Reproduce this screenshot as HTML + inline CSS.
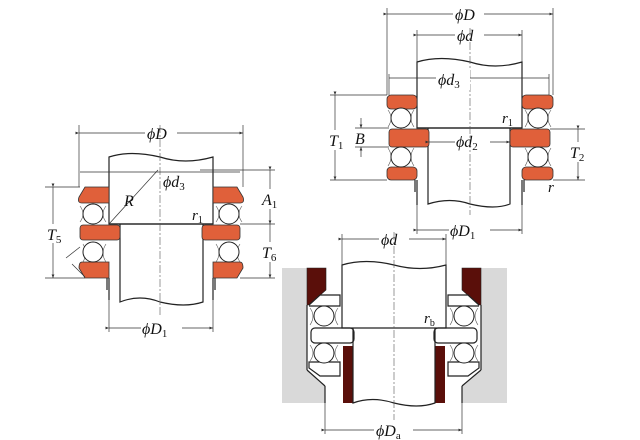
<!DOCTYPE html>
<html><head><meta charset="utf-8"><style>
html,body{margin:0;padding:0;background:#fff}
svg{display:block}
text{font-family:"Liberation Serif",serif;font-style:italic;fill:#111}
.l{stroke:#222;stroke-width:1.2;fill:none}
.t{stroke:#333;stroke-width:.7;fill:none}
.w{fill:#e0603a;stroke:#333;stroke-width:.8}
.b{fill:#fff;stroke:#222;stroke-width:1}
.c{fill:none;stroke:#555;stroke-width:.6}
.cl{stroke:#555;stroke-width:.6;stroke-dasharray:8 2 2 2;fill:none}
</style></head><body>
<svg width="640" height="440" viewBox="0 0 640 440" xmlns="http://www.w3.org/2000/svg">
<defs>
<marker id="a" markerWidth="6" markerHeight="6" refX="5" refY="3" orient="auto"><path d="M0,1 L5,3 L0,5" fill="#333"/></marker>
</defs>

<!-- ============ FIGURE 1 (left) ============ -->
<path class="l" d="M109,224 V157 Q130,150 160,157 Q185,165 213,157 V224 Z" fill="#fff"/>
<path class="l" d="M120,224 V302 Q140,294 160,302 Q185,308 203,302 V224" fill="#fff"/>
<line class="l" x1="109" y1="224" x2="213" y2="224"/>
<line class="cl" x1="160" y1="125" x2="160" y2="315"/>
<path class="w" d="M85,187 H109 V203 H82 Q77,203 79,197 Z"/>
<rect class="w" x="80" y="225" width="40" height="15" rx="3"/>
<path class="w" d="M82,262 H109 V278 H85 L79,268 Q79,262 82,262 Z"/>
<path class="w" d="M213,187 H237 L243,197 Q245,203 240,203 H213 Z"/>
<rect class="w" x="202" y="225" width="38" height="15" rx="3"/>
<path class="w" d="M213,262 H240 Q243,262 243,268 L237,278 H213 Z"/>
<path class="c" d="M80,206 Q86,214 80,222 M106,206 Q100,214 106,222 M83,244 Q88,253 83,262 M106,244 Q100,253 106,262"/>
<circle class="b" cx="93" cy="214" r="10"/><circle class="b" cx="93" cy="252" r="10"/>
<path class="c" d="M216,206 Q222,214 216,222 M242,206 Q236,214 242,222 M216,244 Q222,253 216,262 M240,244 Q234,253 240,262"/>
<circle class="b" cx="229" cy="214" r="10"/><circle class="b" cx="229" cy="252" r="10"/>
<line class="l" x1="109" y1="278" x2="109" y2="300"/><line class="l" x1="213" y1="278" x2="213" y2="300"/>
<line class="l" x1="107" y1="278" x2="107" y2="290"/><line class="l" x1="215" y1="278" x2="215" y2="290"/>
<line class="t" x1="79" y1="125" x2="79" y2="187"/><line class="t" x1="243" y1="125" x2="243" y2="187"/>
<line class="t" x1="79" y1="133" x2="145" y2="133" marker-start="url(#a)"/><line class="t" x1="177" y1="133" x2="243" y2="133" marker-end="url(#a)"/>
<text x="147" y="139" font-size="16">ϕD</text>
<line class="t" x1="80" y1="172" x2="240" y2="172"/>
<line class="t" x1="200" y1="170" x2="275" y2="170"/>
<text x="163" y="187" font-size="16">ϕd<tspan font-size="11" font-style="normal" dy="3">3</tspan></text>
<line class="t" x1="109" y1="224" x2="158" y2="170"/>
<text x="124" y="206" font-size="16">R</text>
<text x="192" y="220" font-size="15">r<tspan font-size="10" font-style="normal" dy="3">1</tspan></text>
<line class="t" x1="45" y1="187" x2="80" y2="187"/><line class="t" x1="45" y1="278" x2="85" y2="278"/>
<line class="t" x1="53" y1="187" x2="53" y2="278" marker-start="url(#a)" marker-end="url(#a)"/>
<rect x="46" y="224" width="22" height="19" fill="#fff"/>
<text x="47" y="240" font-size="16">T<tspan font-size="11" font-style="normal" dy="3">5</tspan></text>
<line class="t" x1="66" y1="258" x2="80" y2="247"/><line class="t" x1="72" y1="264" x2="85" y2="277"/>
<line class="t" x1="240" y1="224" x2="275" y2="224"/><line class="t" x1="240" y1="278" x2="275" y2="278"/>
<line class="t" x1="270" y1="170" x2="270" y2="224" marker-start="url(#a)" marker-end="url(#a)"/>
<line class="t" x1="270" y1="224" x2="270" y2="278" marker-end="url(#a)"/>
<rect x="261" y="189" width="23" height="20" fill="#fff"/><rect x="261" y="242" width="23" height="20" fill="#fff"/>
<text x="262" y="205" font-size="16">A<tspan font-size="11" font-style="normal" dy="3">1</tspan></text>
<text x="262" y="258" font-size="16">T<tspan font-size="11" font-style="normal" dy="3">6</tspan></text>
<line class="t" x1="109" y1="300" x2="109" y2="332"/><line class="t" x1="213" y1="300" x2="213" y2="332"/>
<line class="t" x1="109" y1="328" x2="141" y2="328" marker-start="url(#a)"/><line class="t" x1="182" y1="328" x2="213" y2="328" marker-end="url(#a)"/>
<text x="142" y="334" font-size="16">ϕD<tspan font-size="11" font-style="normal" dy="3">1</tspan></text>

<!-- ============ FIGURE 2 (top right) ============ -->
<path class="l" d="M417,128 V62 Q440,55 470,62 Q495,70 522,62 V128 Z" fill="#fff"/>
<path class="l" d="M428,128 V204 Q450,197 470,204 Q495,210 510,204 V128" fill="#fff"/>
<line class="l" x1="417" y1="128" x2="522" y2="128"/>
<line class="cl" x1="470" y1="28" x2="470" y2="215"/>
<rect class="w" x="387" y="95" width="30" height="14" rx="4"/>
<rect class="w" x="389" y="129" width="40" height="18" rx="3"/>
<rect class="w" x="387" y="167" width="30" height="13" rx="4"/>
<rect class="w" x="522" y="95" width="31" height="14" rx="4"/>
<rect class="w" x="510" y="129" width="40" height="18" rx="3"/>
<rect class="w" x="522" y="167" width="31" height="13" rx="4"/>
<path class="c" d="M388,110 Q394,118 388,127 M414,110 Q408,118 414,127 M388,148 Q394,157 388,166 M414,148 Q408,157 414,166"/>
<path class="c" d="M525,110 Q531,118 525,127 M551,110 Q545,118 551,127 M525,148 Q531,157 525,166 M551,148 Q545,157 551,166"/>
<circle class="b" cx="401" cy="118" r="10"/><circle class="b" cx="401" cy="157" r="10"/>
<circle class="b" cx="538" cy="118" r="10"/><circle class="b" cx="538" cy="157" r="10"/>
<line class="l" x1="417" y1="180" x2="417" y2="205"/><line class="l" x1="522" y1="180" x2="522" y2="205"/>
<line class="l" x1="415" y1="180" x2="415" y2="192"/><line class="l" x1="524" y1="180" x2="524" y2="192"/>
<line class="t" x1="387" y1="8" x2="387" y2="95"/><line class="t" x1="553" y1="8" x2="553" y2="95"/>
<line class="t" x1="387" y1="14" x2="453" y2="14" marker-start="url(#a)"/><line class="t" x1="484" y1="14" x2="553" y2="14" marker-end="url(#a)"/>
<text x="455" y="20" font-size="16">ϕD</text>
<line class="t" x1="417" y1="30" x2="417" y2="62"/><line class="t" x1="522" y1="30" x2="522" y2="62"/>
<line class="t" x1="417" y1="35" x2="455" y2="35" marker-start="url(#a)"/><line class="t" x1="484" y1="35" x2="522" y2="35" marker-end="url(#a)"/>
<text x="457" y="41" font-size="16">ϕd</text>
<line class="t" x1="389" y1="78" x2="549" y2="78"/>
<line class="t" x1="389" y1="74" x2="389" y2="95"/><line class="t" x1="549" y1="74" x2="549" y2="95"/>
<rect x="436" y="70" width="34" height="20" fill="#fff"/>
<text x="438" y="85" font-size="16">ϕd<tspan font-size="11" font-style="normal" dy="3">3</tspan></text>
<text x="502" y="123" font-size="15">r<tspan font-size="10" font-style="normal" dy="3">1</tspan></text>
<line class="t" x1="429" y1="142" x2="455" y2="142" marker-start="url(#a)"/><line class="t" x1="490" y1="142" x2="510" y2="142" marker-end="url(#a)"/>
<text x="456" y="147" font-size="16">ϕd<tspan font-size="11" font-style="normal" dy="3">2</tspan></text>
<line class="t" x1="330" y1="95" x2="387" y2="95"/><line class="t" x1="330" y1="180" x2="387" y2="180"/>
<line class="t" x1="335" y1="95" x2="335" y2="180" marker-start="url(#a)" marker-end="url(#a)"/>
<rect x="327" y="130" width="22" height="20" fill="#fff"/>
<text x="329" y="146" font-size="16">T<tspan font-size="11" font-style="normal" dy="3">1</tspan></text>
<line class="t" x1="355" y1="128" x2="389" y2="128"/><line class="t" x1="355" y1="147" x2="389" y2="147"/>
<line class="t" x1="361" y1="118" x2="361" y2="128" marker-end="url(#a)"/><line class="t" x1="361" y1="157" x2="361" y2="147" marker-end="url(#a)"/>
<text x="355" y="144" font-size="16">B</text>
<line class="t" x1="550" y1="129" x2="585" y2="129"/><line class="t" x1="553" y1="180" x2="585" y2="180"/>
<line class="t" x1="578" y1="129" x2="578" y2="180" marker-start="url(#a)" marker-end="url(#a)"/>
<rect x="569" y="142" width="22" height="20" fill="#fff"/>
<text x="570" y="158" font-size="16">T<tspan font-size="11" font-style="normal" dy="3">2</tspan></text>
<text x="548" y="192" font-size="15">r</text>
<line class="t" x1="417" y1="205" x2="417" y2="234"/><line class="t" x1="522" y1="205" x2="522" y2="234"/>
<line class="t" x1="417" y1="230" x2="449" y2="230" marker-start="url(#a)"/><line class="t" x1="490" y1="230" x2="522" y2="230" marker-end="url(#a)"/>
<text x="450" y="236" font-size="16">ϕD<tspan font-size="11" font-style="normal" dy="3">1</tspan></text>

<!-- ============ FIGURE 3 (bottom) ============ -->
<path d="M282,268 H307 V370 L325,386 V403 H282 Z" fill="#d9d9d9"/>
<path d="M507,268 H481 V370 L462,386 V403 H507 Z" fill="#d9d9d9"/>
<path d="M307,268 H326 V290 L309,305 H307 Z" fill="#5a0f0a" stroke="#222" stroke-width=".6"/>
<path d="M481,268 H462 V290 L479,305 H481 Z" fill="#5a0f0a" stroke="#222" stroke-width=".6"/>
<rect x="343" y="346" width="10" height="57" fill="#5a0f0a"/>
<rect x="435" y="346" width="10" height="57" fill="#5a0f0a"/>
<path class="l" d="M342,328 V265 Q365,258 394,265 Q420,272 446,265 V328 Z" fill="#fff"/>
<path class="l" d="M353,328 V403 Q372,396 394,403 Q418,409 435,403 V328" fill="#fff"/>
<line class="cl" x1="394" y1="232" x2="394" y2="420"/>
<path class="l" d="M309,305 L320,295 H340 V306 H309" fill="#fff"/>
<path class="l" d="M479,305 L468,295 H448 V306 H479" fill="#fff"/>
<rect class="l" x="311" y="328" width="43" height="15" rx="4" fill="#fff"/>
<rect class="l" x="434" y="328" width="43" height="15" rx="4" fill="#fff"/>
<path class="l" d="M309,362 H340 V376 H320 L309,368 Z" fill="#fff"/>
<path class="l" d="M479,362 H448 V376 H468 L479,368 Z" fill="#fff"/>
<line class="l" x1="307" y1="305" x2="307" y2="370"/><line class="l" x1="481" y1="305" x2="481" y2="370"/>
<line class="l" x1="307" y1="370" x2="325" y2="386"/><line class="l" x1="481" y1="370" x2="462" y2="386"/>
<line class="l" x1="325" y1="386" x2="325" y2="403"/><line class="l" x1="462" y1="386" x2="462" y2="403"/>
<path class="c" d="M310,308 Q316,316 310,325 M338,308 Q332,316 338,325 M310,345 Q316,353 310,361 M338,345 Q332,353 338,361"/>
<path class="c" d="M450,308 Q456,316 450,325 M478,308 Q472,316 478,325 M450,345 Q456,353 450,361 M478,345 Q472,353 478,361"/>
<circle class="b" cx="324" cy="316" r="10"/><circle class="b" cx="324" cy="353" r="10"/>
<circle class="b" cx="464" cy="316" r="10"/><circle class="b" cx="464" cy="353" r="10"/>
<text x="424" y="323" font-size="15">r<tspan font-size="10" font-style="normal" dy="3">b</tspan></text>
<line class="t" x1="342" y1="234" x2="342" y2="265"/><line class="t" x1="446" y1="234" x2="446" y2="265"/>
<line class="t" x1="342" y1="239" x2="379" y2="239" marker-start="url(#a)"/><line class="t" x1="409" y1="239" x2="446" y2="239" marker-end="url(#a)"/>
<text x="381" y="245" font-size="16">ϕd</text>
<line class="t" x1="325" y1="403" x2="325" y2="434"/><line class="t" x1="462" y1="403" x2="462" y2="434"/>
<line class="t" x1="325" y1="430" x2="374" y2="430" marker-start="url(#a)"/><line class="t" x1="413" y1="430" x2="462" y2="430" marker-end="url(#a)"/>
<text x="376" y="436" font-size="16">ϕD<tspan font-size="11" font-style="normal" dy="3">a</tspan></text>
</svg>
</body></html>
